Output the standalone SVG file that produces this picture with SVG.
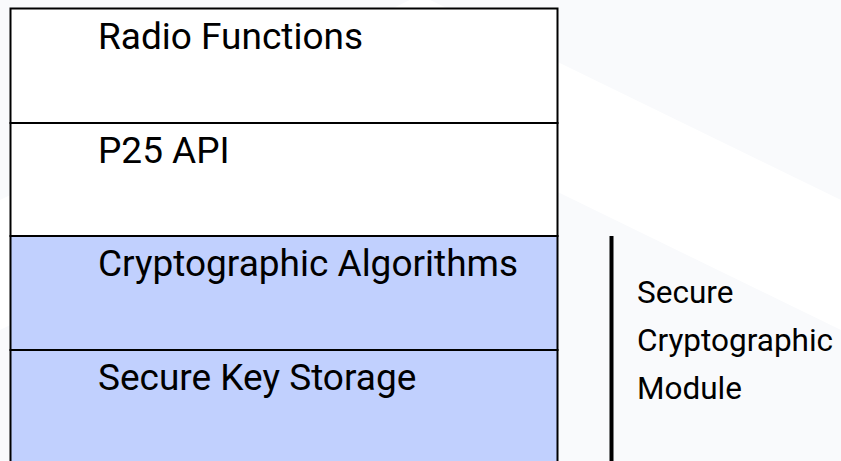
<svg xmlns="http://www.w3.org/2000/svg" width="841" height="461" viewBox="0 0 841 461">
  <style>
    .row { stroke: #000; stroke-width: 2; }
    .plain { fill: #ffffff; }
    .crypto { fill: #c1d0fe; }
    .lbl { font-family: Roboto, "Liberation Sans", sans-serif; font-size: 37px; fill: #000; }
    .side { font-family: Roboto, "Liberation Sans", sans-serif; font-size: 31.5px; fill: #000; }
  </style>
  <rect x="0" y="0" width="841" height="461" fill="#f9fafc"/>
  <polygon points="0,200 420,-5 841,200 841,330 420,125 0,330" fill="#ffffff"/>

  <g id="radio-functions">
    <rect class="row plain" x="10.5" y="8.5" width="547" height="114.5"/>
    <text class="lbl" x="98" y="49">Radio Functions</text>
  </g>
  <g id="p25-api">
    <rect class="row plain" x="10.5" y="123" width="547" height="113"/>
    <text class="lbl" x="98" y="163">P25 API</text>
  </g>
  <g id="crypto-algorithms">
    <rect class="row crypto" x="10.5" y="236" width="547" height="114"/>
    <text class="lbl" x="98" y="276">Cryptographic Algorithms</text>
  </g>
  <g id="secure-key-storage">
    <rect class="row crypto" x="10.5" y="350" width="547" height="120"/>
    <text class="lbl" x="98" y="390">Secure Key Storage</text>
  </g>

  <g id="connectors">
    <line x1="611.5" y1="236" x2="611.5" y2="470" stroke="#000" stroke-width="4"/>
  </g>

  <g id="secure-module-label">
    <text class="side" x="637" y="303">Secure</text>
    <text class="side" x="637" y="351">Cryptographic</text>
    <text class="side" x="637" y="399">Module</text>
  </g>
</svg>
